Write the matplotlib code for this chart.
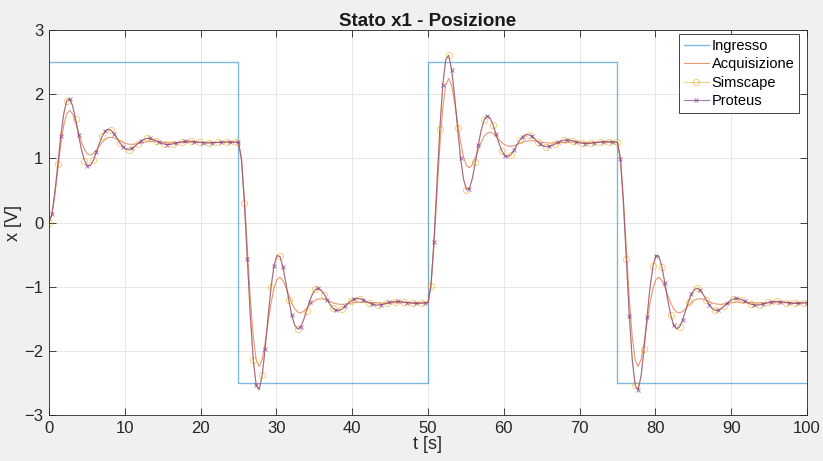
import numpy as np
import matplotlib
matplotlib.use("Agg")
import matplotlib.pyplot as plt

plt.rcParams['font.family'] = ['Liberation Sans', 'DejaVu Sans']

# square wave input: level changes at these instants
input_edges = [0, 25, 50, 75, 100]
input_levels = [2.5, -2.5, 2.5, -2.5, -2.5]

# sampled outputs, 257 samples from 0 to 100 s
t = np.linspace(0, 100, 257)

proteus = [
    # 0 - 25 s
    0, 0.132, 0.471, 0.913, 1.352, 1.698, 1.895, 1.928, 1.817, 1.608,
    1.360, 1.131, 0.963, 0.882, 0.890, 0.970, 1.094, 1.229, 1.347, 1.425,
    1.455, 1.438, 1.385, 1.313, 1.240, 1.181, 1.146, 1.138, 1.154, 1.187,
    1.228, 1.266, 1.295, 1.310, 1.310, 1.298, 1.278, 1.256, 1.236, 1.222,
    1.216, 1.219, 1.227, 1.238, 1.250, 1.260, 1.267, 1.268, 1.266, 1.261,
    1.254, 1.248, 1.243, 1.240, 1.240, 1.242, 1.245, 1.249, 1.252, 1.254,
    1.255, 1.255, 1.254, 1.252,
    # 25 - 50 s
    1.250, 0.987, 0.309, -0.576, -1.454, -2.145, -2.540, -2.606, -2.383, -1.966,
    -1.470, -1.011, -0.677, -0.514, -0.529, -0.689, -0.938, -1.209, -1.444, -1.601,
    -1.660, -1.626, -1.520, -1.377, -1.231, -1.113, -1.042, -1.026, -1.058, -1.124,
    -1.205, -1.282, -1.340, -1.369, -1.370, -1.346, -1.306, -1.261, -1.222, -1.194,
    -1.183, -1.187, -1.203, -1.227, -1.251, -1.271, -1.283, -1.287, -1.282, -1.272,
    -1.259, -1.246, -1.236, -1.231, -1.230, -1.234, -1.240, -1.247, -1.254, -1.259,
    -1.261, -1.261, -1.258, -1.254,
    # 50 - 75 s
    -1.250, -0.987, -0.309, 0.576, 1.454, 2.145, 2.540, 2.606, 2.383, 1.966,
    1.470, 1.011, 0.677, 0.514, 0.529, 0.689, 0.938, 1.209, 1.444, 1.601,
    1.660, 1.626, 1.520, 1.377, 1.231, 1.113, 1.042, 1.026, 1.058, 1.124,
    1.205, 1.282, 1.340, 1.369, 1.370, 1.346, 1.306, 1.261, 1.222, 1.194,
    1.183, 1.187, 1.203, 1.227, 1.251, 1.271, 1.283, 1.287, 1.282, 1.272,
    1.259, 1.246, 1.236, 1.231, 1.230, 1.234, 1.240, 1.247, 1.254, 1.259,
    1.261, 1.261, 1.258, 1.254,
    # 75 - 100 s
    1.250, 0.987, 0.309, -0.576, -1.454, -2.145, -2.540, -2.606, -2.383, -1.966,
    -1.470, -1.011, -0.677, -0.514, -0.529, -0.689, -0.938, -1.209, -1.444, -1.601,
    -1.660, -1.626, -1.520, -1.377, -1.231, -1.113, -1.042, -1.026, -1.058, -1.124,
    -1.205, -1.282, -1.340, -1.369, -1.370, -1.346, -1.306, -1.261, -1.222, -1.194,
    -1.183, -1.187, -1.203, -1.227, -1.251, -1.271, -1.283, -1.287, -1.282, -1.272,
    -1.259, -1.246, -1.236, -1.231, -1.230, -1.234, -1.240, -1.247, -1.254, -1.259,
    -1.261, -1.261, -1.258, -1.254,
    -1.250,
]

# the Simscape trace reads the same as the Proteus one
simscape = list(proteus)

acquisizione = [
    # 0 - 25 s
    0, 0.125, 0.438, 0.833, 1.217, 1.517, 1.696, 1.748, 1.691, 1.563,
    1.405, 1.254, 1.137, 1.069, 1.052, 1.077, 1.129, 1.192, 1.252, 1.297,
    1.323, 1.329, 1.318, 1.296, 1.271, 1.248, 1.230, 1.221, 1.219, 1.223,
    1.232, 1.242, 1.251, 1.258, 1.262, 1.262, 1.260, 1.257, 1.253, 1.249,
    1.247, 1.245, 1.245, 1.246, 1.247, 1.249, 1.250, 1.251, 1.252, 1.252,
    1.252, 1.251, 1.250, 1.250, 1.249, 1.249, 1.249, 1.250, 1.250, 1.250,
    1.250, 1.250, 1.250, 1.250,
    # 25 - 50 s
    1.250, 0.999, 0.374, -0.417, -1.184, -1.784, -2.142, -2.245, -2.133, -1.877,
    -1.560, -1.258, -1.025, -0.889, -0.854, -0.904, -1.008, -1.135, -1.254, -1.345,
    -1.396, -1.407, -1.386, -1.343, -1.292, -1.246, -1.210, -1.191, -1.188, -1.197,
    -1.214, -1.234, -1.253, -1.266, -1.274, -1.275, -1.271, -1.264, -1.256, -1.248,
    -1.243, -1.240, -1.240, -1.242, -1.245, -1.248, -1.251, -1.253, -1.254, -1.254,
    -1.253, -1.252, -1.251, -1.250, -1.249, -1.249, -1.249, -1.249, -1.250, -1.250,
    -1.250, -1.250, -1.250, -1.250,
    # 50 - 75 s
    -1.250, -0.999, -0.374, 0.417, 1.184, 1.784, 2.142, 2.245, 2.133, 1.877,
    1.560, 1.258, 1.025, 0.889, 0.854, 0.904, 1.008, 1.135, 1.254, 1.345,
    1.396, 1.407, 1.386, 1.343, 1.292, 1.246, 1.210, 1.191, 1.188, 1.197,
    1.214, 1.234, 1.253, 1.266, 1.274, 1.275, 1.271, 1.264, 1.256, 1.248,
    1.243, 1.240, 1.240, 1.242, 1.245, 1.248, 1.251, 1.253, 1.254, 1.254,
    1.253, 1.252, 1.251, 1.250, 1.249, 1.249, 1.249, 1.249, 1.250, 1.250,
    1.250, 1.250, 1.250, 1.250,
    # 75 - 100 s
    1.250, 0.999, 0.374, -0.417, -1.184, -1.784, -2.142, -2.245, -2.133, -1.877,
    -1.560, -1.258, -1.025, -0.889, -0.854, -0.904, -1.008, -1.135, -1.254, -1.345,
    -1.396, -1.407, -1.386, -1.343, -1.292, -1.246, -1.210, -1.191, -1.188, -1.197,
    -1.214, -1.234, -1.253, -1.266, -1.274, -1.275, -1.271, -1.264, -1.256, -1.248,
    -1.243, -1.240, -1.240, -1.242, -1.245, -1.248, -1.251, -1.253, -1.254, -1.254,
    -1.253, -1.252, -1.251, -1.250, -1.249, -1.249, -1.249, -1.249, -1.250, -1.250,
    -1.250, -1.250, -1.250, -1.250,
    -1.250,
]

fig = plt.figure(figsize=(8.23, 4.61), dpi=100, facecolor='#f0f0f0')
ax = fig.add_axes([0.0595, 0.0998, 0.921, 0.835])
ax.set_facecolor('white')

ax.plot(input_edges, input_levels, drawstyle='steps-post', color='#0072bd',
        alpha=0.5, lw=1.0, label='Ingresso')
ax.plot(t, acquisizione, color='#d95319', alpha=0.6, lw=0.8, label='Acquisizione')
ax.plot(t, simscape, color='#edb120', alpha=0.6, lw=0.8, marker='o', ms=4.5,
        mfc='none', mew=0.7, markevery=(0, 3), label='Simscape')
ax.plot(t, proteus, color='#7e2f8e', alpha=0.65, lw=0.8, marker='x', ms=3,
        mew=0.7, markevery=(1, 3), label='Proteus')

ax.set_xlim(0, 100)
ax.set_ylim(-3, 3)
ax.set_xticks(np.arange(0, 101, 10))
ax.set_yticks(np.arange(-3, 4, 1))
ax.grid(True, color='#e3e3e3', lw=0.6)
ax.set_axisbelow(True)
ax.tick_params(direction='in', top=True, right=True, length=5, width=0.6,
               labelsize=12, colors='#262626', pad=4)
for sp in ax.spines.values():
    sp.set_color('#262626')
    sp.set_linewidth(0.6)

ax.set_title('Stato x1 - Posizione', fontsize=13.5, fontweight='bold', pad=3,
             color='#1a1a1a')
ax.set_xlabel('t [s]', fontsize=13, labelpad=0, color='#262626')
ax.set_ylabel('x [V]', fontsize=13, labelpad=2, color='#262626')

leg = ax.legend(loc='upper right', bbox_to_anchor=(0.99, 0.99), borderaxespad=0,
                fontsize=10.5, frameon=True, fancybox=False, framealpha=1,
                edgecolor='#262626', handlelength=1.7, handletextpad=0.2,
                labelspacing=0.3, borderpad=0.35, numpoints=1)
leg.get_frame().set_linewidth(0.6)

fig.savefig('out.png', dpi=100, facecolor=fig.get_facecolor())
